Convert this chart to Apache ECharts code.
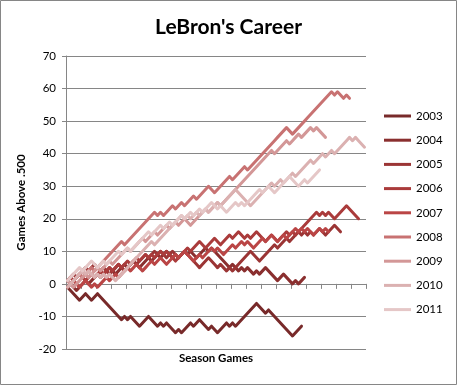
<!DOCTYPE html>
<html>
<head>
<meta charset="utf-8">
<script src="https://cdn.jsdelivr.net/npm/echarts@6/dist/echarts.min.js"></script>
<style>
html,body{margin:0;padding:0;background:#fff;}
#chart{width:457px;height:385px;}
</style>
</head>
<body>
<div id="chart"></div>
<script>
// Game number within the season (regular season + playoffs)
const games = Array.from({length: 100}, (_, i) => i + 1);
const seasons = ['2003','2004','2005','2006','2007','2008','2009','2010','2011'];
const yTicks = [-20,-10,0,10,20,30,40,50,60,70];

// Games above .500 after each game
const s2003 = [-1,-2,-3,-4,-5,-4,-3,-4,-5,-4, -3,-4,-5,-6,-7,-8,-9,-10,-11,-10, -11,-10,-11,-12,-13,-12,-11,-10,-11,-12, -13,-12,-13,-12,-13,-14,-15,-14,-15,-14, -13,-12,-13,-12,-11,-12,-13,-14,-13,-14, -15,-14,-13,-12,-13,-12,-13,-12,-11,-10, -9,-8,-7,-6,-7,-8,-9,-8,-9,-10, -11,-12,-13,-14,-15,-16,-15,-14,-13];
const s2004 = [1,0,-1,-2,-1,0,1,0,1,2, 3,2,3,4,5,4,3,4,5,6, 5,6,7,6,5,6,7,8,7,8, 9,8,9,10,9,8,9,8,9,10, 9,10,9,8,9,10,11,10,11,10, 9,8,7,6,5,6,5,4,5,4, 5,4,3,4,3,4,5,4,3,2, 1,2,3,2,1,0,1,0,1,2];
const s2005 = [1,2,3,2,3,4,5,4,5,6, 5,4,5,4,3,4,5,6,5,4, 5,6,7,6,7,8,9,8,9,10, 9,10,9,8,9,10,9,8,9,10, 9,8,7,6,5,6,7,8,7,6, 5,6,5,4,5,4,5,6,7,8, 9,10,9,8,7,8,9,10,11,12, 11,12,13,14,13,14,15,16,15,16, 15,16,15,16,17,16,15,16,17,18, 17,16];
const s2006 = [1,2,1,2,3,2,1,2,3,2, 3,4,3,4,5,4,5,6,5,6, 7,6,7,8,7,8,9,8,9,8, 9,10,9,10,9,8,7,8,9,10, 11,10,11,12,13,12,11,12,13,14, 13,12,13,14,15,14,15,16,15,14, 15,14,15,16,15,14,13,14,15,14, 13,14,15,16,15,16,15,16,17,18, 19,20,21,22,21,22,21,22,21,20, 21,22,23,24,23,22,21,20];
const s2007 = [-1,0,1,0,-1,0,1,0,-1,0, -1,0,1,2,1,2,3,2,3,4, 5,4,5,6,5,4,5,6,7,6, 7,8,7,6,7,8,9,8,9,10, 9,8,7,8,9,8,9,10,11,10, 11,10,9,10,11,12,11,12,13,12, 13,12,11,12,13,14,13,14,15,14, 13,14,15,14,15,16,17,16,17,16, 17,16,15,16,17,16,17,16];
const s2008 = [-1,0,1,2,3,2,3,4,5,4, 5,6,7,8,9,10,11,12,13,12, 13,14,15,16,17,18,19,20,21,22, 21,22,21,22,23,24,23,24,25,24, 25,26,27,26,27,28,29,30,29,28, 29,30,31,32,33,32,33,34,35,36, 35,36,37,38,39,40,41,42,43,44, 45,46,47,48,47,46,47,48,49,50, 51,52,53,54,55,56,57,58,59,58, 59,58,57,58,57];
const s2009 = [1,0,-1,0,1,2,3,2,3,4, 5,4,5,6,7,6,7,8,9,10, 11,10,11,12,13,14,13,14,15,16, 15,16,17,18,17,18,19,18,19,20, 19,18,19,20,21,22,23,22,23,24, 25,24,25,26,27,28,29,30,31,32, 33,34,35,36,37,38,39,40,41,40, 41,42,43,44,43,44,45,46,45,46, 47,48,47,48,47,46,45];
const s2010 = [-1,0,1,2,3,4,3,4,3,2, 3,2,3,2,3,2,1,2,3,4, 5,6,7,8,9,10,11,12,13,12, 13,14,15,16,17,18,19,20,21,20, 21,20,21,22,21,22,23,22,23,24, 25,24,25,26,27,28,29,28,27,26, 25,24,25,26,27,28,29,30,31,30, 31,32,31,32,33,34,33,34,35,36, 37,38,37,38,39,40,39,40,41,40, 41,42,43,44,45,44,45,44,43,42];
const s2011 = [1,2,3,4,5,4,5,6,7,6, 5,6,7,6,7,8,9,10,9,10, 11,10,11,12,13,14,15,16,15,16, 17,18,17,18,19,18,19,20,21,20, 21,22,21,22,23,22,23,24,25,24, 23,24,23,22,23,24,25,24,25,24, 25,26,27,28,29,28,29,30,29,28, 29,30,31,32,33,32,31,30,31,32, 31,32,33,34,35];

const values = [s2003,s2004,s2005,s2006,s2007,s2008,s2009,s2010,s2011];
const colors = ['#782a2a','#8a2f2f','#9b3535','#aa3b3b','#ba4545','#c87272','#d39797','#dbb1b1','#e5c7c7'];

const FONT = 'Lato';
const GRID = {left: 66, right: 91, top: 56, bottom: 36};
const chartH = 385;
const yMin = yTicks[0], yMax = yTicks[yTicks.length - 1];
// distance of the zero line above the bottom of the plot, used to lift the tick axis onto it
const plotH = chartH - GRID.top - GRID.bottom;
const zeroLift = plotH * (0 - yMin) / (yMax - yMin);

const chart = echarts.init(document.getElementById('chart'), null, {renderer:'canvas'});
chart.setOption({
  animation: false,
  backgroundColor: '#fff',
  title: {
    text: "LeBron's Career",
    left: 'center',
    top: 12,
    textStyle: {fontFamily: FONT, fontWeight: 'bold', fontSize: 21, color: '#000'}
  },
  grid: GRID,
  xAxis: [
    {
      type: 'category',
      data: games,
      boundaryGap: true,
      axisLine: {show: false, onZero: false},
      axisTick: {show: false},
      axisLabel: {show: false},
      splitLine: {show: false}
    },
    {
      // axis line sitting on the zero line, tick marks every 5 games
      type: 'value',
      min: 0,
      max: games.length,
      interval: 5,
      position: 'bottom',
      offset: -zeroLift,
      axisLine: {show: true, onZero: false, lineStyle: {color: '#868686', width: 1}},
      axisTick: {show: true, length: 5, lineStyle: {color: '#868686', width: 1}},
      axisLabel: {show: false},
      splitLine: {show: false},
      z: 3
    }
  ],
  yAxis: {
    type: 'value',
    min: yMin,
    max: yMax,
    interval: 10,
    name: 'Games Above .500',
    nameLocation: 'middle',
    nameGap: 35,
    nameTextStyle: {fontFamily: FONT, fontWeight: 'bold', fontSize: 11.5, color: '#000'},
    axisLine: {show: true, onZero: false, lineStyle: {color: '#868686'}},
    axisTick: {show: true, length: 4, lineStyle: {color: '#868686'}},
    axisLabel: {fontFamily: FONT, fontSize: 11.5, color: '#000', margin: 10},
    splitLine: {show: true, lineStyle: {color: '#868686', width: 1}}
  },
  legend: {
    orient: 'vertical',
    left: 384,
    top: 109,
    padding: 0,
    itemWidth: 27,
    itemHeight: 3,
    itemGap: 10.2,
    icon: 'rect',
    textStyle: {fontFamily: FONT, fontSize: 11.5, color: '#000', lineHeight: 14},
    data: seasons
  },
  graphic: [
    {type: 'rect', shape: {x: 0.5, y: 0.5, width: 456, height: 384}, style: {fill: null, stroke: '#868686', lineWidth: 1}, silent: true},
    {type: 'text', x: 216, y: 358, style: {text: 'Season Games', font: 'bold 11.5px ' + FONT, fill: '#000', align: 'center', verticalAlign: 'middle'}, silent: true}
  ],
  series: seasons.map((name, i) => ({
    name: name,
    type: 'line',
    xAxisIndex: 0,
    data: values[i],
    symbol: 'none',
    showSymbol: false,
    lineStyle: {width: 3, color: colors[i], join: 'round', cap: 'round'},
    itemStyle: {color: colors[i]},
    emphasis: {disabled: true},
    z: 4
  }))
});
</script>
</body>
</html>
